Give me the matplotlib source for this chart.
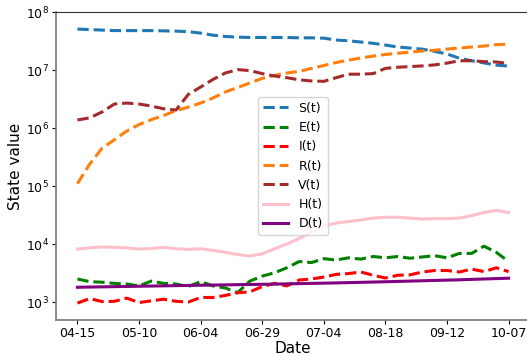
import matplotlib
matplotlib.use("Agg")
import matplotlib.pyplot as plt
from matplotlib.ticker import NullLocator

# day index since 04-15, sampled every 5 days
days = list(range(0, 176, 5))
tick_days = [0, 25, 50, 75, 100, 125, 150, 175]
tick_labels = ["04-15", "05-10", "06-04", "06-29", "07-04", "08-18", "09-12", "10-07"]

S = [5.1e7, 5.0e7, 4.9e7, 4.8e7, 4.8e7, 4.8e7, 4.8e7, 4.75e7, 4.7e7, 4.6e7,
     4.35e7, 4.0e7, 3.8e7, 3.7e7, 3.65e7, 3.65e7, 3.65e7, 3.65e7, 3.6e7, 3.6e7,
     3.55e7, 3.3e7, 3.2e7, 3.05e7, 2.9e7, 2.7e7, 2.5e7, 2.4e7, 2.3e7, 2.1e7,
     1.9e7, 1.6e7, 1.45e7, 1.33e7, 1.22e7, 1.17e7]
E = [2.5e3, 2.25e3, 2.2e3, 2.1e3, 2.05e3, 1.9e3, 2.3e3, 2.1e3, 2.05e3, 1.85e3,
     2.25e3, 1.9e3, 1.75e3, 1.45e3, 2.3e3, 2.8e3, 3.2e3, 3.9e3, 5.0e3, 4.8e3,
     5.6e3, 5.3e3, 5.8e3, 5.5e3, 6.1e3, 5.8e3, 6.1e3, 5.7e3, 6.0e3, 6.3e3,
     5.8e3, 6.9e3, 6.9e3, 9.2e3, 7.2e3, 5.0e3]
I = [960, 1150, 1020, 1030, 1170, 980, 1050, 1120, 1030, 1000,
     1200, 1200, 1300, 1450, 1500, 1850, 2100, 1900, 2400, 2500,
     2700, 3000, 3100, 3300, 2900, 2600, 2900, 2950, 3300, 3500,
     3500, 3300, 3700, 3350, 3900, 3350]
R = [1.1e5, 2.4e5, 4.5e5, 6.3e5, 8.9e5, 1.15e6, 1.4e6, 1.65e6, 2.0e6, 2.3e6,
     2.7e6, 3.3e6, 4.2e6, 5.0e6, 6.0e6, 7.2e6, 8.1e6, 8.9e6, 9.5e6, 1.07e7,
     1.2e7, 1.35e7, 1.48e7, 1.62e7, 1.74e7, 1.86e7, 1.95e7, 2.04e7, 2.14e7, 2.2e7,
     2.3e7, 2.4e7, 2.5e7, 2.6e7, 2.75e7, 2.8e7]
V = [1.38e6, 1.5e6, 1.9e6, 2.6e6, 2.7e6, 2.6e6, 2.4e6, 2.15e6, 2.05e6, 3.8e6,
     5.1e6, 6.9e6, 8.9e6, 1.02e7, 9.8e6, 8.7e6, 7.9e6, 7.4e6, 6.8e6, 6.5e6,
     6.4e6, 7.4e6, 8.5e6, 8.5e6, 8.7e6, 1.07e7, 1.12e7, 1.15e7, 1.18e7, 1.23e7,
     1.32e7, 1.45e7, 1.45e7, 1.4e7, 1.38e7, 1.3e7]
H = [8.2e3, 8.6e3, 8.9e3, 8.8e3, 8.6e3, 8.2e3, 8.4e3, 8.8e3, 8.3e3, 8.1e3,
     8.3e3, 7.8e3, 7.2e3, 6.6e3, 6.2e3, 6.8e3, 8.3e3, 1.0e4, 1.25e4, 1.6e4,
     2.05e4, 2.3e4, 2.45e4, 2.6e4, 2.8e4, 2.9e4, 2.9e4, 2.8e4, 2.7e4, 2.75e4,
     2.75e4, 2.8e4, 3.1e4, 3.5e4, 3.8e4, 3.5e4]
D = [1800, 1815, 1830, 1845, 1860, 1875, 1890, 1905, 1920, 1935,
     1950, 1965, 1980, 1995, 2010, 2025, 2040, 2060, 2080, 2100,
     2120, 2140, 2165, 2190, 2215, 2240, 2270, 2300, 2330, 2360,
     2390, 2420, 2460, 2500, 2540, 2580]

fig = plt.figure(figsize=(5.27, 3.56), dpi=100)
ax = fig.add_axes([0.106, 0.101, 0.900, 0.865])

ax.plot(days, S, '--', lw=2.2, color='tab:blue', label='S(t)')
ax.plot(days, E, '--', lw=2.2, color='green', label='E(t)')
ax.plot(days, I, '--', lw=2.2, color='red', label='I(t)')
ax.plot(days, R, '--', lw=2.2, color='tab:orange', label='R(t)')
ax.plot(days, V, '--', lw=2.2, color='brown', label='V(t)')
ax.plot(days, H, '-', lw=2.2, color='pink', label='H(t)')
ax.plot(days, D, '-', lw=2.2, color='purple', label='D(t)')

ax.set_yscale('log')
ax.set_ylim(10**2.69, 1e8)
ax.set_xlim(-8.75, 183.75)
ax.yaxis.set_minor_locator(NullLocator())
ax.set_xticks(tick_days)
ax.set_xticklabels(tick_labels)
ax.tick_params(labelsize=9, length=3, pad=2)

ax.spines['right'].set_visible(False)
ax.spines['left'].set_color('gray')
ax.spines['bottom'].set_color('gray')
ax.spines['left'].set_linewidth(1.3)
ax.spines['bottom'].set_linewidth(1.3)
ax.spines['top'].set_color('#333333')

ax.set_xlabel('Date', fontsize=11, labelpad=1)
ax.set_ylabel('State value', fontsize=11, labelpad=2)
ax.legend(loc='center', fontsize=9)

fig.savefig('out.png', dpi=100)
